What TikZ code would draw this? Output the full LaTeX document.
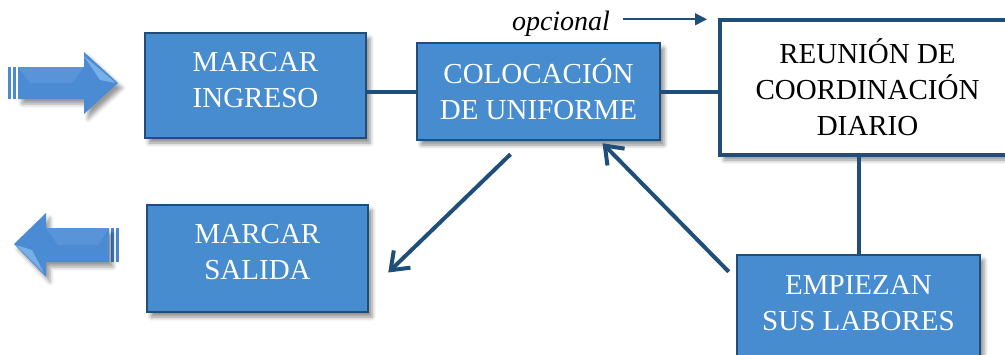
\documentclass[tikz,border=0pt]{standalone}
\usepackage{fontspec}
\setmainfont{Liberation Serif}
\usetikzlibrary{arrows.meta,shadows.blur,calc}
\definecolor{boxblue}{RGB}{70,140,207}
\definecolor{edgeblue}{RGB}{31,78,121}
\definecolor{arrblue}{RGB}{74,139,212}
\definecolor{arrlight}{RGB}{150,200,245}
\begin{document}
\begin{tikzpicture}[x=1pt,y=-1pt,
  boxshadow/.style={blur shadow={shadow xshift=4pt,shadow yshift=-5pt,shadow blur radius=4pt,shadow opacity=45}},
  bluebox/.style={draw=edgeblue,line width=2.5pt,fill=boxblue,inner sep=0pt,boxshadow},
  whitebox/.style={draw=edgeblue,line width=4pt,fill=white,inner sep=0pt,boxshadow},
  boxtext/.style={align=center,font=\fontsize{29}{36}\selectfont,inner sep=0pt,text=white},
  conn/.style={draw=edgeblue,line width=4pt},
  barb/.style={conn,-{Straight Barb[length=16pt,width=24pt,line width=4pt]}},
  blockarrow/.style={fill=arrblue,draw=none,blur shadow={shadow xshift=4pt,shadow yshift=-5pt,shadow blur radius=4pt,shadow opacity=40}}
]
\clip (0,0) rectangle (1005,354);
\useasboundingbox (0,0) rectangle (1005,354);

% boxes
\node[bluebox,minimum width=221pt,minimum height=105pt] (ingreso) at (255.5,85.5) {};
\node[boxtext] (ingresoT) at ($(ingreso.center)+(0,-5)$) {MARCAR\\INGRESO};
\node[bluebox,minimum width=243pt,minimum height=97pt] (coloc) at (538.5,91.5) {};
\node[boxtext] (colocT) at ($(coloc.center)+(0,-2)$) {COLOCACIÓN\\DE UNIFORME};
\node[whitebox,minimum width=295pt,minimum height=135pt] (reunion) at (867.5,87.5) {};
\node[boxtext,text=black] (reunionT) at (867.5,87.5) {REUNIÓN DE\\COORDINACIÓN\\DIARIO};
\node[bluebox,minimum width=221pt,minimum height=107pt] (salida) at (257.5,258.5) {};
\node[boxtext] (salidaT) at ($(salida.center)+(0,-6)$) {MARCAR\\SALIDA};
\node[bluebox,minimum width=243pt,minimum height=110pt] (empiezan) at (858.5,310) {};
\node[boxtext] (empiezanT) at (858.5,303) {EMPIEZAN\\SUS LABORES};

% connectors
\draw[conn] (coloc.west) -- (coloc.west -| ingreso.east);
\draw[conn] (coloc.east) -- (coloc.east -| reunion.west);
\draw[conn] (empiezan.north |- reunion.south) -- (empiezan.north);

\coordinate (s1) at ($(coloc.south)+(-28,13)$);
\coordinate (e1) at ($(salida.east)+(19,14)$);
\draw[barb] (s1) -- (e1);
\coordinate (s2) at ($(empiezan.north west)+(-7,18)$);
\coordinate (e2) at ($(coloc.south)+(64,2)$);
\draw[barb] (s2) -- (e2);

% opcional
\node[font=\fontsize{28}{30}\itshape\selectfont,inner sep=0pt,anchor=base] (opc) at (561,30) {opcional};
\coordinate (o1) at ($(reunion.north west)+(-11,0)$);
\coordinate (o0) at ($(opc.east)+(13,-4)$);
\draw[edgeblue,line width=1.6pt,-{Triangle[length=12pt,width=12pt]}] (o0) -- (o0 -| o1);

% right block arrow
\fill[arrblue] (8,67) rectangle (11,99);
\fill[arrblue] (13,67) rectangle (16,99);
\fill[blockarrow] (18,67) -- (84,67) -- (84,52) -- (118,83) -- (84,114) -- (84,99) -- (18,99) -- cycle;
\fill[arrlight,opacity=0.6] (84,56) -- (116,83) -- (100,80) -- cycle;
\fill[white,opacity=0.08] (18,67) -- (84,67) -- (72,83) -- (30,83) -- cycle;

% left block arrow
\fill[arrblue] (111,228) rectangle (114,262);
\fill[arrblue] (116,228) rectangle (119,262);
\fill[blockarrow] (109,228) -- (46,228) -- (46,213) -- (14,244) -- (46,277) -- (46,262) -- (109,262) -- cycle;
\fill[arrlight,opacity=0.6] (16,245) -- (44,273) -- (32,250) -- cycle;
\fill[white,opacity=0.08] (109,228) -- (46,228) -- (58,245) -- (98,245) -- cycle;
\end{tikzpicture}
\end{document}
